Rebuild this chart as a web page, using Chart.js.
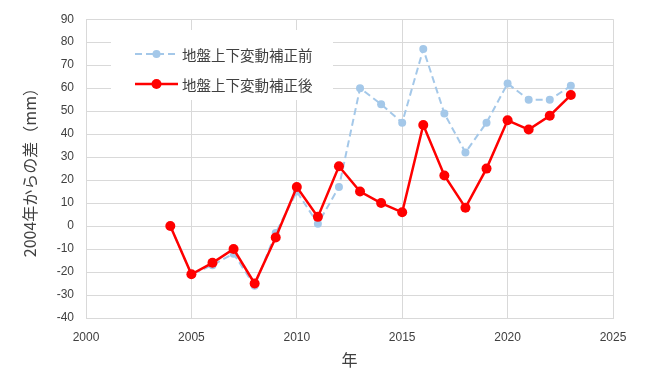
<!DOCTYPE html>
<html>
<head>
<meta charset="utf-8">
<script src="https://cdn.jsdelivr.net/npm/chart.js@4.4.0/dist/chart.umd.min.js"></script>
<style>
  html, body { margin: 0; padding: 0; background: #fff; }
  canvas { display: block; }
</style>
</head>
<body>
<canvas id="chart" width="650" height="374"></canvas>
<script>
// data
const years = [2004, 2005, 2006, 2007, 2008, 2009, 2010, 2011, 2012, 2013,
               2014, 2015, 2016, 2017, 2018, 2019, 2020, 2021, 2022, 2023];
const beforeCorr = [0, -21, -17, -12, -26, -3, 15, 1, 17, 60,
                    53, 45, 77, 49, 32, 45, 62, 55, 55, 61];
const afterCorr = [0, -21, -16, -10, -25, -5, 17, 4, 26, 15,
                   10, 6, 44, 22, 8, 25, 46, 42, 48, 57];
const labelBefore = "地盤上下変動補正前";
const labelAfter = "地盤上下変動補正後";
const xTitle = "年";
const yTitle = "2004年からの差（mm）";

const BLUE = "#a4c8e9";
const RED = "#ff0000";
const GRID = "#d9d9d9";
const TXT = "#404040";
const CJK = "'Noto Sans CJK JP', 'Noto Sans', sans-serif";

const pts = vals => years.map((y, i) => ({ x: y, y: vals[i] }));

// legend drawn inside the plot, on a white box
const insideLegend = {
  id: "insideLegend",
  afterDatasetsDraw(chart) {
    const ctx = chart.ctx;
    ctx.save();
    ctx.fillStyle = "#fff";
    ctx.fillRect(111, 30, 222, 70);
    const rows = [
      { ds: chart.data.datasets[1], y: 54 },
      { ds: chart.data.datasets[0], y: 84 }
    ];
    rows.forEach(r => {
      ctx.strokeStyle = r.ds.borderColor;
      ctx.lineWidth = r.ds.borderWidth;
      ctx.setLineDash(r.ds.borderDash || []);
      ctx.beginPath();
      ctx.moveTo(135, r.y);
      ctx.lineTo(178, r.y);
      ctx.stroke();
      ctx.setLineDash([]);
      ctx.fillStyle = r.ds.pointBackgroundColor;
      ctx.beginPath();
      ctx.arc(156.5, r.y, r.ds.pointRadius, 0, Math.PI * 2);
      ctx.fill();
      ctx.fillStyle = TXT;
      ctx.font = "14.5px " + CJK;
      ctx.textBaseline = "middle";
      ctx.fillText(r.ds.label, 182, r.y + 1);
    });
    ctx.restore();
  }
};

new Chart(document.getElementById("chart"), {
  type: "line",
  data: {
    datasets: [
      {
        label: labelAfter, data: pts(afterCorr), order: 0,
        borderColor: RED, backgroundColor: RED, borderWidth: 2.5,
        pointRadius: 5, pointBackgroundColor: RED, pointBorderWidth: 0,
        tension: 0
      },
      {
        label: labelBefore, data: pts(beforeCorr), order: 1,
        borderColor: BLUE, backgroundColor: BLUE, borderWidth: 2,
        borderDash: [7, 4],
        pointRadius: 4, pointBackgroundColor: BLUE, pointBorderWidth: 0,
        tension: 0
      }
    ]
  },
  options: {
    responsive: false,
    animation: false,
    devicePixelRatio: 1,
    layout: { padding: { left: 0, top: 19, right: 37, bottom: 0 } },
    plugins: { legend: { display: false }, tooltip: { enabled: false } },
    scales: {
      x: {
        type: "linear", min: 2000, max: 2025,
        afterFit: s => { s.height = 56; },
        grid: { color: GRID, lineWidth: 1, drawTicks: false },
        border: { color: GRID },
        ticks: { stepSize: 5, padding: 12, color: TXT,
                 font: { family: "'Liberation Sans', sans-serif", size: 12 },
                 callback: v => String(v) },
        title: { display: true, text: xTitle, color: TXT,
                 font: { family: CJK, size: 16 }, padding: { top: 0, bottom: 4 } }
      },
      y: {
        min: -40, max: 90,
        afterFit: s => { s.width = 86; },
        grid: { color: GRID, lineWidth: 1, drawTicks: false },
        border: { color: GRID },
        ticks: { stepSize: 10, padding: 12, color: TXT,
                 font: { family: "'Liberation Sans', sans-serif", size: 12 } },
        title: { display: true, text: yTitle, color: TXT,
                 font: { family: CJK, size: 16 }, padding: { top: 20, bottom: 0 } }
      }
    }
  },
  plugins: [insideLegend]
});
</script>
</body>
</html>
